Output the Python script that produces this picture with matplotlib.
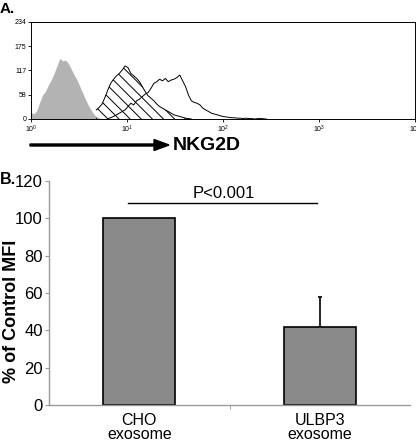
import numpy as np
import matplotlib
matplotlib.use("Agg")
import matplotlib.pyplot as plt
from matplotlib.ticker import LogLocator, FixedLocator

plt.rcParams['font.family'] = ['Liberation Sans', 'DejaVu Sans']
plt.rcParams['hatch.linewidth'] = 0.7

# ---------------- Panel A data (log10 fluorescence position, cell count) ----------------
gray_log = [0.00, 0.03, 0.06, 0.09, 0.12, 0.15, 0.18, 0.21, 0.24, 0.27, 0.30, 0.33, 0.36,
            0.39, 0.42, 0.45, 0.48, 0.51, 0.54, 0.57, 0.60, 0.63, 0.66, 0.69, 0.72, 0.75]
gray_counts = [16, 12, 20, 40, 58, 66, 82, 94, 110, 128, 146, 140, 142,
               134, 120, 106, 94, 78, 62, 46, 32, 20, 10, 5, 2, 0]

hatch_log = [0.68, 0.71, 0.74, 0.77, 0.80, 0.83, 0.86, 0.89, 0.92, 0.95, 0.98, 1.01, 1.04,
             1.07, 1.10, 1.13, 1.16, 1.19, 1.22, 1.25, 1.28, 1.31, 1.34, 1.37, 1.40, 1.43,
             1.46, 1.49, 1.52, 1.55, 1.58, 1.61, 1.64, 1.67]
hatch_counts = [22, 28, 36, 52, 70, 86, 96, 104, 110, 118, 128, 124, 110,
                104, 98, 90, 78, 66, 56, 50, 44, 36, 30, 26, 22, 18,
                14, 10, 8, 6, 4, 2, 1, 0]

open_log = [0.80, 0.83, 0.86, 0.89, 0.92, 0.95, 0.98, 1.01, 1.04, 1.07, 1.10, 1.13, 1.16,
            1.19, 1.22, 1.25, 1.28, 1.31, 1.34, 1.37, 1.40, 1.43, 1.46, 1.49, 1.52, 1.55,
            1.58, 1.61, 1.64, 1.67, 1.70, 1.73, 1.76, 1.79, 1.82, 1.85, 1.88, 1.91, 1.94,
            1.97, 2.00, 2.03, 2.06, 2.09, 2.12, 2.15, 2.18, 2.21, 2.24, 2.27, 2.30, 2.33,
            2.36, 2.40, 2.45]
open_counts = [1, 3, 6, 10, 14, 18, 22, 30, 38, 34, 44, 48, 54,
               60, 64, 74, 86, 90, 96, 92, 98, 90, 94, 96, 100, 106,
               92, 78, 58, 44, 40, 38, 34, 26, 22, 18, 14, 12, 10,
               8, 6, 5, 4, 3, 3, 2, 2, 1, 2, 1, 1, 0,
               1, 1, 0]

hist_yticks = [0, 58, 117, 175, 234]

# ---------------- Panel B data ----------------
categories = ["CHO\nexosome", "ULBP3\nexosome"]
pct_mfi = [100, 42]
pct_err = [0, 15.7]
p_text = "P<0.001"

fig = plt.figure(figsize=(4.16, 4.42), dpi=100)

# ---------------- Panel A ----------------
axA = fig.add_axes([31/416, 1-119/442, 384/416, 97/442])
gx = 10 ** np.array(gray_log)
hx = 10 ** np.array(hatch_log)
ox = 10 ** np.array(open_log)
axA.fill_between(gx, gray_counts, color='#b3b3b3', lw=0)
axA.fill_between(hx, hatch_counts, facecolor='none', edgecolor='black',
                 hatch='\\\\\\', lw=0)
axA.plot(hx, hatch_counts, color='black', lw=0.7)
axA.plot(ox, open_counts, color='black', lw=0.7)
axA.set_xscale('log')
axA.set_xlim(1, 1e4)
axA.set_ylim(0, 234)
axA.set_yticks(hist_yticks)
axA.xaxis.set_major_locator(LogLocator(base=10, numticks=10))
axA.xaxis.set_minor_locator(FixedLocator([]))
axA.tick_params(axis='both', labelsize=5, length=2.5, width=0.6, pad=1, direction='out')
for s in axA.spines.values():
    s.set_linewidth(0.7)

fig.text(0.0, 1-2/442, "A.", fontsize=11, fontweight='bold', ha='left', va='top')

# arrow and NKG2D label
fig.add_artist(matplotlib.patches.FancyArrow(30/416, 1-145/442, 139/416, 0,
                                             width=2/442, head_width=11/442,
                                             head_length=15/416, length_includes_head=True,
                                             color='black', transform=fig.transFigure))
fig.text(173/416, 1-145/442, "NKG2D", fontsize=14, fontweight='bold', ha='left', va='center')

# ---------------- Panel B ----------------
axB = fig.add_axes([49/416, 1-405/442, 361/416, 224/442])
xpos = np.arange(len(categories))
axB.bar(xpos, pct_mfi, width=0.4, color='#8a8a8a', edgecolor='black', linewidth=1.2, zorder=2)
axB.errorbar(xpos[1:], pct_mfi[1:], yerr=[[0], pct_err[1:]], fmt='none', ecolor='black',
             elinewidth=1.2, capsize=1.5, capthick=1.2, zorder=1)
axB.set_xlim(-0.5, 1.5)
axB.set_ylim(0, 120)
axB.set_yticks(range(0, 121, 20))
axB.set_xticks(xpos)
axB.set_xticklabels(categories, fontsize=11.5, linespacing=0.92)
axB.set_xticks([0.5], minor=True)
axB.tick_params(axis='x', which='major', length=0, pad=6)
axB.tick_params(axis='x', which='minor', length=3, color='#999999')
axB.tick_params(axis='y', labelsize=12, length=3, color='#999999', pad=1.5)
for side in ['top', 'right']:
    axB.spines[side].set_visible(False)
for side in ['left', 'bottom']:
    axB.spines[side].set_color('#999999')
    axB.spines[side].set_linewidth(1)

axB.plot([-0.06, 0.985], [108, 108], color='black', lw=1, clip_on=False)
axB.text(0.47, 109.5, p_text, fontsize=12, ha='center', va='bottom')

fig.text(12/416, 1-311/442, "% of Control MFI", fontsize=13, fontweight='bold',
         rotation=90, ha='center', va='center')
fig.text(0.0, 1-172/442, "B.", fontsize=11.5, fontweight='bold', ha='left', va='top')

fig.savefig("out.png", dpi=100)
